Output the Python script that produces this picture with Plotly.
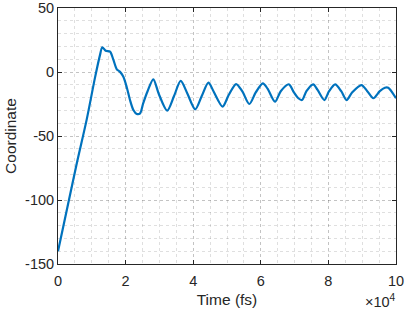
import plotly.graph_objects as go

# Time in fs, coordinate values
time_fs = [0, 3000, 5500, 8500, 10900, 12400, 13100, 14100, 15400, 16400, 17400,
           18300, 19300, 20300, 21300, 22300, 23300, 24300, 25200,
           26500, 28200, 29800, 32300, 34300, 36300, 38300, 40600,
           42500, 44500, 46000, 48700, 50500, 52700, 54500, 56600, 58500, 60600,
           62000, 64200, 65900, 68300, 69800, 71100, 72200, 73500, 75500, 76800,
           78800, 80200, 82000, 83800, 85400, 87000, 89800, 91500, 93300, 95200,
           96700, 97700, 100000]
coord = [-140, -103, -72, -37, -5, 13, 19.3, 16.6, 15.9, 9.4, 2.1,
         0.3, -3.6, -11.5, -21.9, -29.7, -32.8, -32.3, -24.5,
         -15, -5.7, -17, -30.2, -19, -7, -17, -29.2,
         -19, -8.3, -15, -27, -18, -9.4, -15, -25, -16, -8.9,
         -13, -23.2, -15, -9.6, -16, -20.5, -21.9, -15, -9.6, -14,
         -21.9, -15, -9.6, -15, -21.9, -16, -10.2, -15, -20.5, -15,
         -12.3, -12.3, -20.5]

x_tickvals = [0, 20000, 40000, 60000, 80000, 100000]
x_ticktext = ["0", "2", "4", "6", "8", "10"]
y_tickvals = [-150, -100, -50, 0, 50]
y_ticktext = ["-150", "-100", "-50", "0", "50"]

axis_color = "#262626"
grid_color = "rgba(38,38,38,0.15)"
minor_color = "rgba(38,38,38,0.15)"
font_family = "Liberation Sans, Arial, Helvetica, sans-serif"

fig = go.Figure()
fig.add_trace(go.Scatter(
    x=time_fs, y=coord, mode="lines",
    line=dict(color="#0072BD", width=2.2, shape="spline", smoothing=0.8),
    showlegend=False,
))

fig.update_layout(
    width=407, height=316,
    margin=dict(l=58, r=11, t=8, b=52),
    paper_bgcolor="white", plot_bgcolor="white",
    font=dict(family=font_family, size=14, color=axis_color),
    xaxis=dict(
        range=[0, 100000], tickvals=x_tickvals, ticktext=x_ticktext,
        ticks="inside", ticklen=4, tickcolor=axis_color,
        showline=True, linecolor=axis_color, linewidth=1, mirror="ticks",
        showgrid=True, gridcolor=grid_color, griddash="dot", gridwidth=1,
        minor=dict(dtick=5000, showgrid=True, gridcolor=minor_color, griddash="dot", ticks=""),
        zeroline=False, automargin=False, ticklabelstandoff=4,
        title=dict(text="Time (fs)", font=dict(size=15.5), standoff=5),
        tickfont=dict(size=14.5),
    ),
    yaxis=dict(
        range=[-150, 50], tickvals=y_tickvals, ticktext=y_ticktext,
        ticks="inside", ticklen=4, tickcolor=axis_color,
        showline=True, linecolor=axis_color, linewidth=1, mirror="ticks",
        showgrid=True, gridcolor=grid_color, griddash="dot", gridwidth=1,
        minor=dict(dtick=10, showgrid=True, gridcolor=minor_color, griddash="dot", ticks=""),
        zeroline=False, automargin=False,
        title=dict(text="Coordinate", font=dict(size=15.5), standoff=4),
        tickfont=dict(size=14.5),
    ),
    annotations=[dict(
        text="×10<sup>4</sup>", x=1, y=0, xref="paper", yref="paper",
        xanchor="right", yanchor="top", yshift=-26, xshift=2,
        showarrow=False, font=dict(size=14.5, color=axis_color),
    )],
)

fig.write_html(
    "out.html",
    config={"displayModeBar": False},
    post_script="document.body.style.margin='0';document.body.style.overflow='hidden';",
)
